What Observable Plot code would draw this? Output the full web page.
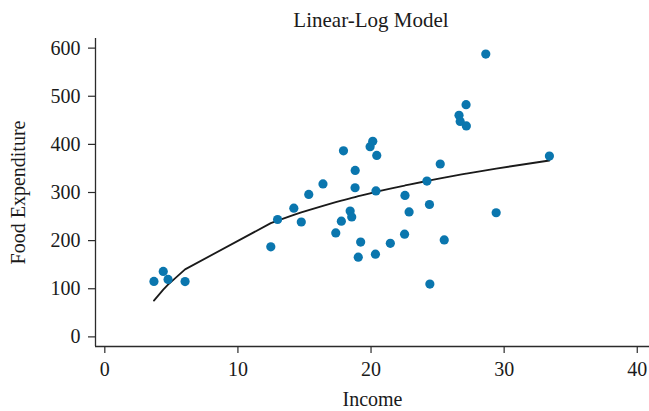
<!DOCTYPE html>
<html><head><meta charset="utf-8">
<script src="https://cdn.jsdelivr.net/npm/d3@7"></script>
<script src="https://cdn.jsdelivr.net/npm/@observablehq/plot@0.6"></script>
<style>
body{margin:0;background:#fff;}
#title{height:34px;width:649px;position:relative;font-family:"Liberation Serif",serif;font-size:21px;color:#1a1a1a;}
#title span{position:absolute;left:371px;top:10px;line-height:21px;transform:translateX(-50%);white-space:nowrap;}
</style>
</head><body>
<div id="title"><span>Linear-Log Model</span></div>
<div id="chart"></div>
<script>
const titleText = "Linear-Log Model";
const xLabel = "Income";
const yLabel = "Food Expenditure";
const xTicks = [0, 10, 20, 30, 40];
const yTicks = [0, 100, 200, 300, 400, 500, 600];

// observed data (income, food expenditure)
const income = [3.69, 4.39, 4.75, 6.03, 12.47, 12.98, 14.20, 14.76, 15.32, 16.39,
  17.35, 17.77, 17.93, 18.43, 18.55, 18.80, 18.81, 19.04, 19.22, 19.93,
  20.13, 20.33, 20.37, 20.43, 21.45, 22.52, 22.55, 22.86, 24.20, 24.39,
  24.42, 25.20, 25.50, 26.61, 26.70, 27.14, 27.16, 28.62, 29.40, 33.40];
const foodExp = [115.22, 135.98, 119.34, 114.96, 187.05, 243.92, 267.43, 238.71, 295.94, 317.78,
  216.00, 240.35, 386.57, 261.53, 249.34, 309.87, 345.89, 165.54, 196.98, 395.26,
  406.34, 171.92, 303.23, 377.04, 194.35, 213.48, 293.87, 259.61, 323.71, 275.02,
  109.71, 359.19, 201.51, 460.36, 447.76, 482.55, 438.29, 587.66, 257.95, 375.73];
// fitted values of the linear-log model at each income
const fitted = [75.4, 98.3, 108.7, 140.3, 236.3, 241.6, 253.5, 258.6, 263.5, 272.4,
  280.0, 283.1, 284.3, 288.0, 288.8, 290.6, 290.6, 292.3, 293.5, 298.3,
  299.6, 300.9, 301.2, 301.6, 308.0, 314.4, 314.6, 316.4, 323.9, 325.0,
  325.1, 329.3, 330.9, 336.5, 337.0, 339.1, 339.2, 346.1, 349.7, 366.5];

document.querySelector("#title span").textContent = titleText;

const points = income.map((x, i) => ({x, y: foodExp[i]}));
const line = income.map((x, i) => ({x, y: fitted[i]}));

const xDomain = [-0.7, 40.92];
const yDomain = [-20, 620];
const ink = "#2b2b2b";

const chart = Plot.plot({
  width: 649,
  height: 377,
  marginTop: 4,
  marginBottom: 65,
  marginLeft: 95,
  marginRight: 0,
  style: {fontFamily: "'Liberation Serif', serif", fontSize: "20px", color: "#1a1a1a", background: "#fff"},
  x: {domain: xDomain},
  y: {domain: yDomain},
  marks: [
    Plot.ruleX([xDomain[0]], {stroke: ink, strokeWidth: 1.3}),
    Plot.ruleY([yDomain[0]], {stroke: ink, strokeWidth: 1.3}),
    Plot.axisX(xTicks, {tickSize: 7, tickPadding: 8, stroke: ink, strokeWidth: 1.2, label: xLabel, labelAnchor: "center", labelArrow: "none", labelOffset: 59, fontSize: 20}),
    Plot.axisY(yTicks, {tickSize: 7, tickPadding: 8, stroke: ink, strokeWidth: 1.2, label: yLabel, labelAnchor: "center", labelArrow: "none", labelOffset: 85, fontSize: 20}),
    Plot.line(line, {x: "x", y: "y", stroke: "#1a1a1a", strokeWidth: 1.8}),
    Plot.dot(points, {x: "x", y: "y", r: 4.6, fill: "#0a76ae", stroke: "none"})
  ]
});
document.getElementById("chart").appendChild(chart);
</script>
</body></html>
